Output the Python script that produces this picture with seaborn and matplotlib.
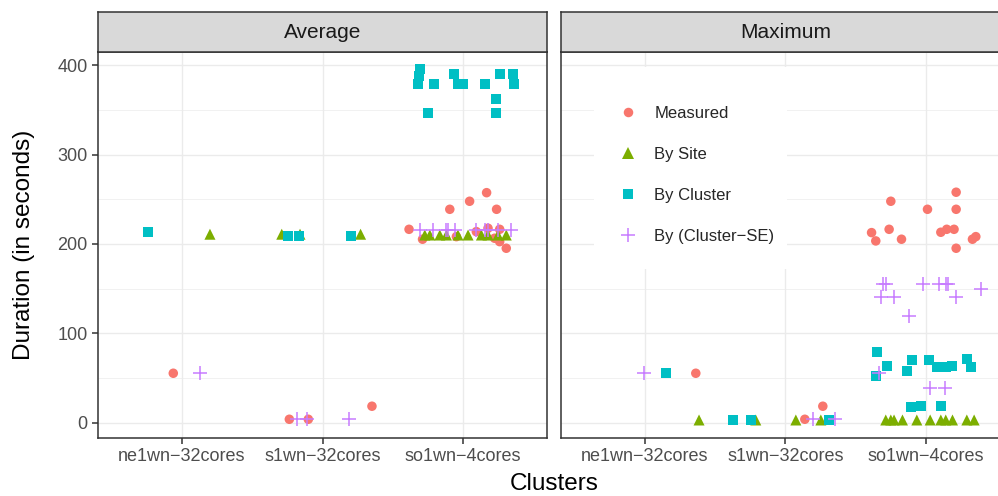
import seaborn as sns
import matplotlib.pyplot as plt
import pandas as pd
from matplotlib.lines import Line2D
from matplotlib.patches import Rectangle


# clusters on the x axis (positions 1, 2, 3), points are jittered around them
clusters = ["ne1wn\u221232cores", "s1wn\u221232cores", "so1wn\u22124cores"]
methods = ["Measured", "By Site", "By Cluster", "By (Cluster\u2212SE)"]
panels = ["Average", "Maximum"]

colors = ["#F8766D", "#7CAE00", "#00BFC4", "#C77CFF"]
markers = ["o", "^", "s", "+"]
sizes = [47, 63, 52, 100]

############################ Average ############################

avg_measured_pos = [0.938, 1.764, 1.899, 2.352, 2.616, 2.712, 2.906, 3.047, 3.168, 3.239,
                    2.953, 3.095, 3.178, 3.261, 3.225, 3.261, 3.308]
avg_measured_dur = [55.3, 3.8, 3.8, 18.4, 216.4, 205.3, 238.8, 247.8, 257.4, 238.8,
                    208.2, 213.8, 217.6, 216.4, 206.4, 202.6, 195.2]

avg_site_pos = [1.199, 1.710, 1.840, 2.271, 2.728, 2.764, 2.835, 2.882, 2.964, 3.036,
                3.131, 3.178, 3.249, 3.308]
avg_site_dur = [210.9, 210.9, 210.9, 210.9, 210, 210, 210, 210, 210, 210,
                210, 210, 210, 210]

avg_cluster_pos = [0.761, 1.753, 1.831, 2.200, 2.697, 2.685, 2.678, 2.797, 2.934, 2.965,
                   3.000, 3.154, 3.261, 3.358, 3.365, 3.237, 2.749, 3.237]
avg_cluster_dur = [213.8, 209.3, 209.3, 209.3, 395.5, 388, 379.4, 379.4, 390.6, 379.4,
                   379.4, 379.4, 390.6, 390.6, 379.4, 362.6, 346.3, 346.3]

avg_se_pos = [1.130, 1.817, 1.888, 2.186, 2.697, 2.787, 2.882, 2.893, 2.941, 3.095,
              3.154, 3.178, 3.249, 3.344]
avg_se_dur = [56, 4.5, 4.5, 4.5, 215.7, 215.7, 215.7, 215.7, 215.7, 215.7,
              215.7, 215.7, 215.7, 215.7]

############################ Maximum ############################

max_measured_pos = [1.363, 2.139, 2.267, 2.751, 2.614, 2.644, 2.739, 2.827, 3.012, 3.216,
                    3.216, 3.107, 3.149, 3.201, 3.216, 3.332, 3.356]
max_measured_dur = [55.3, 3.8, 18.4, 247.8, 212.7, 203.4, 216.4, 205.3, 238.8, 257.9,
                    238.8, 213.1, 216.4, 216.4, 195.2, 205.3, 208.2]

max_site_pos = [1.386, 1.790, 2.075, 2.253, 2.715, 2.751, 2.774, 2.834, 2.936, 3.031,
                3.107, 3.142, 3.190, 3.292, 3.344]
max_site_dur = [3, 3, 3, 3, 3, 3, 3, 3, 3, 3, 3, 3, 3, 3, 3]

max_cluster_pos = [1.149, 1.631, 1.754, 2.312, 2.656, 2.727, 2.644, 2.905, 2.865, 3.024,
                   3.083, 3.142, 3.183, 3.292, 3.320, 2.898, 2.964, 3.107]
max_cluster_dur = [56, 3, 3, 3, 79.5, 63.8, 52.3, 70.2, 58.2, 70.2,
                   62.7, 62.7, 63.8, 71.6, 62.7, 17.9, 19, 19]

max_se_pos = [0.993, 2.194, 2.352, 2.692, 2.715, 2.977, 3.095, 3.142, 3.159, 2.680,
              2.774, 3.214, 3.391, 2.881, 2.668, 3.028, 3.135]
max_se_dur = [56, 4.5, 4.5, 155.2, 155.2, 155.2, 155.2, 155.2, 155.2, 141,
              141, 141, 149.3, 119.4, 56, 39.2, 39.2]


series = {
    ("Average", "Measured"): (avg_measured_pos, avg_measured_dur),
    ("Average", "By Site"): (avg_site_pos, avg_site_dur),
    ("Average", "By Cluster"): (avg_cluster_pos, avg_cluster_dur),
    ("Average", "By (Cluster\u2212SE)"): (avg_se_pos, avg_se_dur),
    ("Maximum", "Measured"): (max_measured_pos, max_measured_dur),
    ("Maximum", "By Site"): (max_site_pos, max_site_dur),
    ("Maximum", "By Cluster"): (max_cluster_pos, max_cluster_dur),
    ("Maximum", "By (Cluster\u2212SE)"): (max_se_pos, max_se_dur),
}
rows = []
for (panel, method), (pos, dur) in series.items():
    for p, d in zip(pos, dur):
        rows.append({"panel": panel, "method": method, "pos": p, "duration": d})
df = pd.DataFrame(rows)


sns.set_theme(style="white")
plt.rcParams['font.family'] = ['Liberation Sans', 'DejaVu Sans']

fig = plt.figure(figsize=(9.98, 4.96), dpi=100)
W, H = 998, 496
panel_left = [97.7, 560.5]
panel_w = 449.6
panel_top, panel_bot = 52.3, 438.3
strip_top = 11.7

axes = []
for i, panel in enumerate(panels):
    ax = fig.add_axes([panel_left[i] / W, (H - panel_bot) / H, panel_w / W, (panel_bot - panel_top) / H])
    ax.set_axisbelow(True)
    sub = df[df["panel"] == panel]
    for m, c, mk, s in zip(methods, colors, markers, sizes):
        d = sub[sub["method"] == m]
        if mk == "+":
            sns.scatterplot(x="pos", y="duration", data=d, color=c, marker=mk, s=s,
                            linewidth=1.1, ax=ax, zorder=3)
        else:
            sns.scatterplot(x="pos", y="duration", data=d, color=c, marker=mk, s=s,
                            linewidth=0, edgecolor="none", ax=ax, zorder=3)
    ax.set_xlim(0.4, 3.6)
    ax.set_ylim(-17.5, 414.5)
    ax.set_xticks([1, 2, 3])
    ax.set_xticklabels(clusters)
    ax.set_yticks([0, 100, 200, 300, 400])
    ax.set_yticks([50, 150, 250, 350], minor=True)
    ax.grid(which="major", color="#EBEBEB", linewidth=1.0)
    ax.grid(which="minor", axis="y", color="#EBEBEB", linewidth=0.5)
    ax.tick_params(which="major", length=4.3, width=1.1, color="#333333",
                   labelcolor="#4D4D4D", labelsize=13, pad=3, bottom=True, left=True)
    ax.tick_params(which="minor", length=0)
    ax.set_xlabel("")
    ax.set_ylabel("")
    for sp in ax.spines.values():
        sp.set_color("#333333")
        sp.set_linewidth(1.1)
    if i == 1:
        ax.tick_params(axis="y", left=False, labelleft=False)

    # facet strip
    sax = fig.add_axes([panel_left[i] / W, (H - panel_top) / H, panel_w / W, (panel_top - strip_top) / H])
    sax.set_facecolor("#D9D9D9")
    sax.set_xticks([])
    sax.set_yticks([])
    for sp in sax.spines.values():
        sp.set_color("#333333")
        sp.set_linewidth(1.1)
    sax.text(0.5, 0.5, panel, ha="center", va="center", fontsize=15, color="#1A1A1A",
             transform=sax.transAxes)
    axes.append(ax)

# legend inside the right panel
axr = axes[1]
axr.add_patch(Rectangle((0.0745, 0.4386), 0.429, 0.5234, transform=axr.transAxes,
                        facecolor="white", edgecolor="none", zorder=1.5))
handles = []
for m, c, mk, s in zip(methods, colors, markers, sizes):
    if mk == "+":
        handles.append(Line2D([], [], linestyle="", marker=mk, color=c, markersize=s ** 0.5,
                              markeredgewidth=1.1))
    else:
        handles.append(Line2D([], [], linestyle="", marker=mk, color=c, markersize=s ** 0.5,
                              markeredgewidth=0))
axr.legend(handles, methods, loc="upper left", bbox_to_anchor=(0.1199, 0.862),
           frameon=False, fontsize=12, borderpad=0, borderaxespad=0,
           handlelength=1.6, handletextpad=0.79, labelspacing=1.57)

fig.text(553.9 / W, (H - 490) / H, "Clusters", ha="center", va="baseline", fontsize=17.5, color="black")
fig.text(13 / W, (H - 245.3) / H, "Duration (in seconds)", ha="left", va="center",
         rotation=90, fontsize=17.5, color="black")

plt.savefig("out.png", dpi=100)
plt.close()
